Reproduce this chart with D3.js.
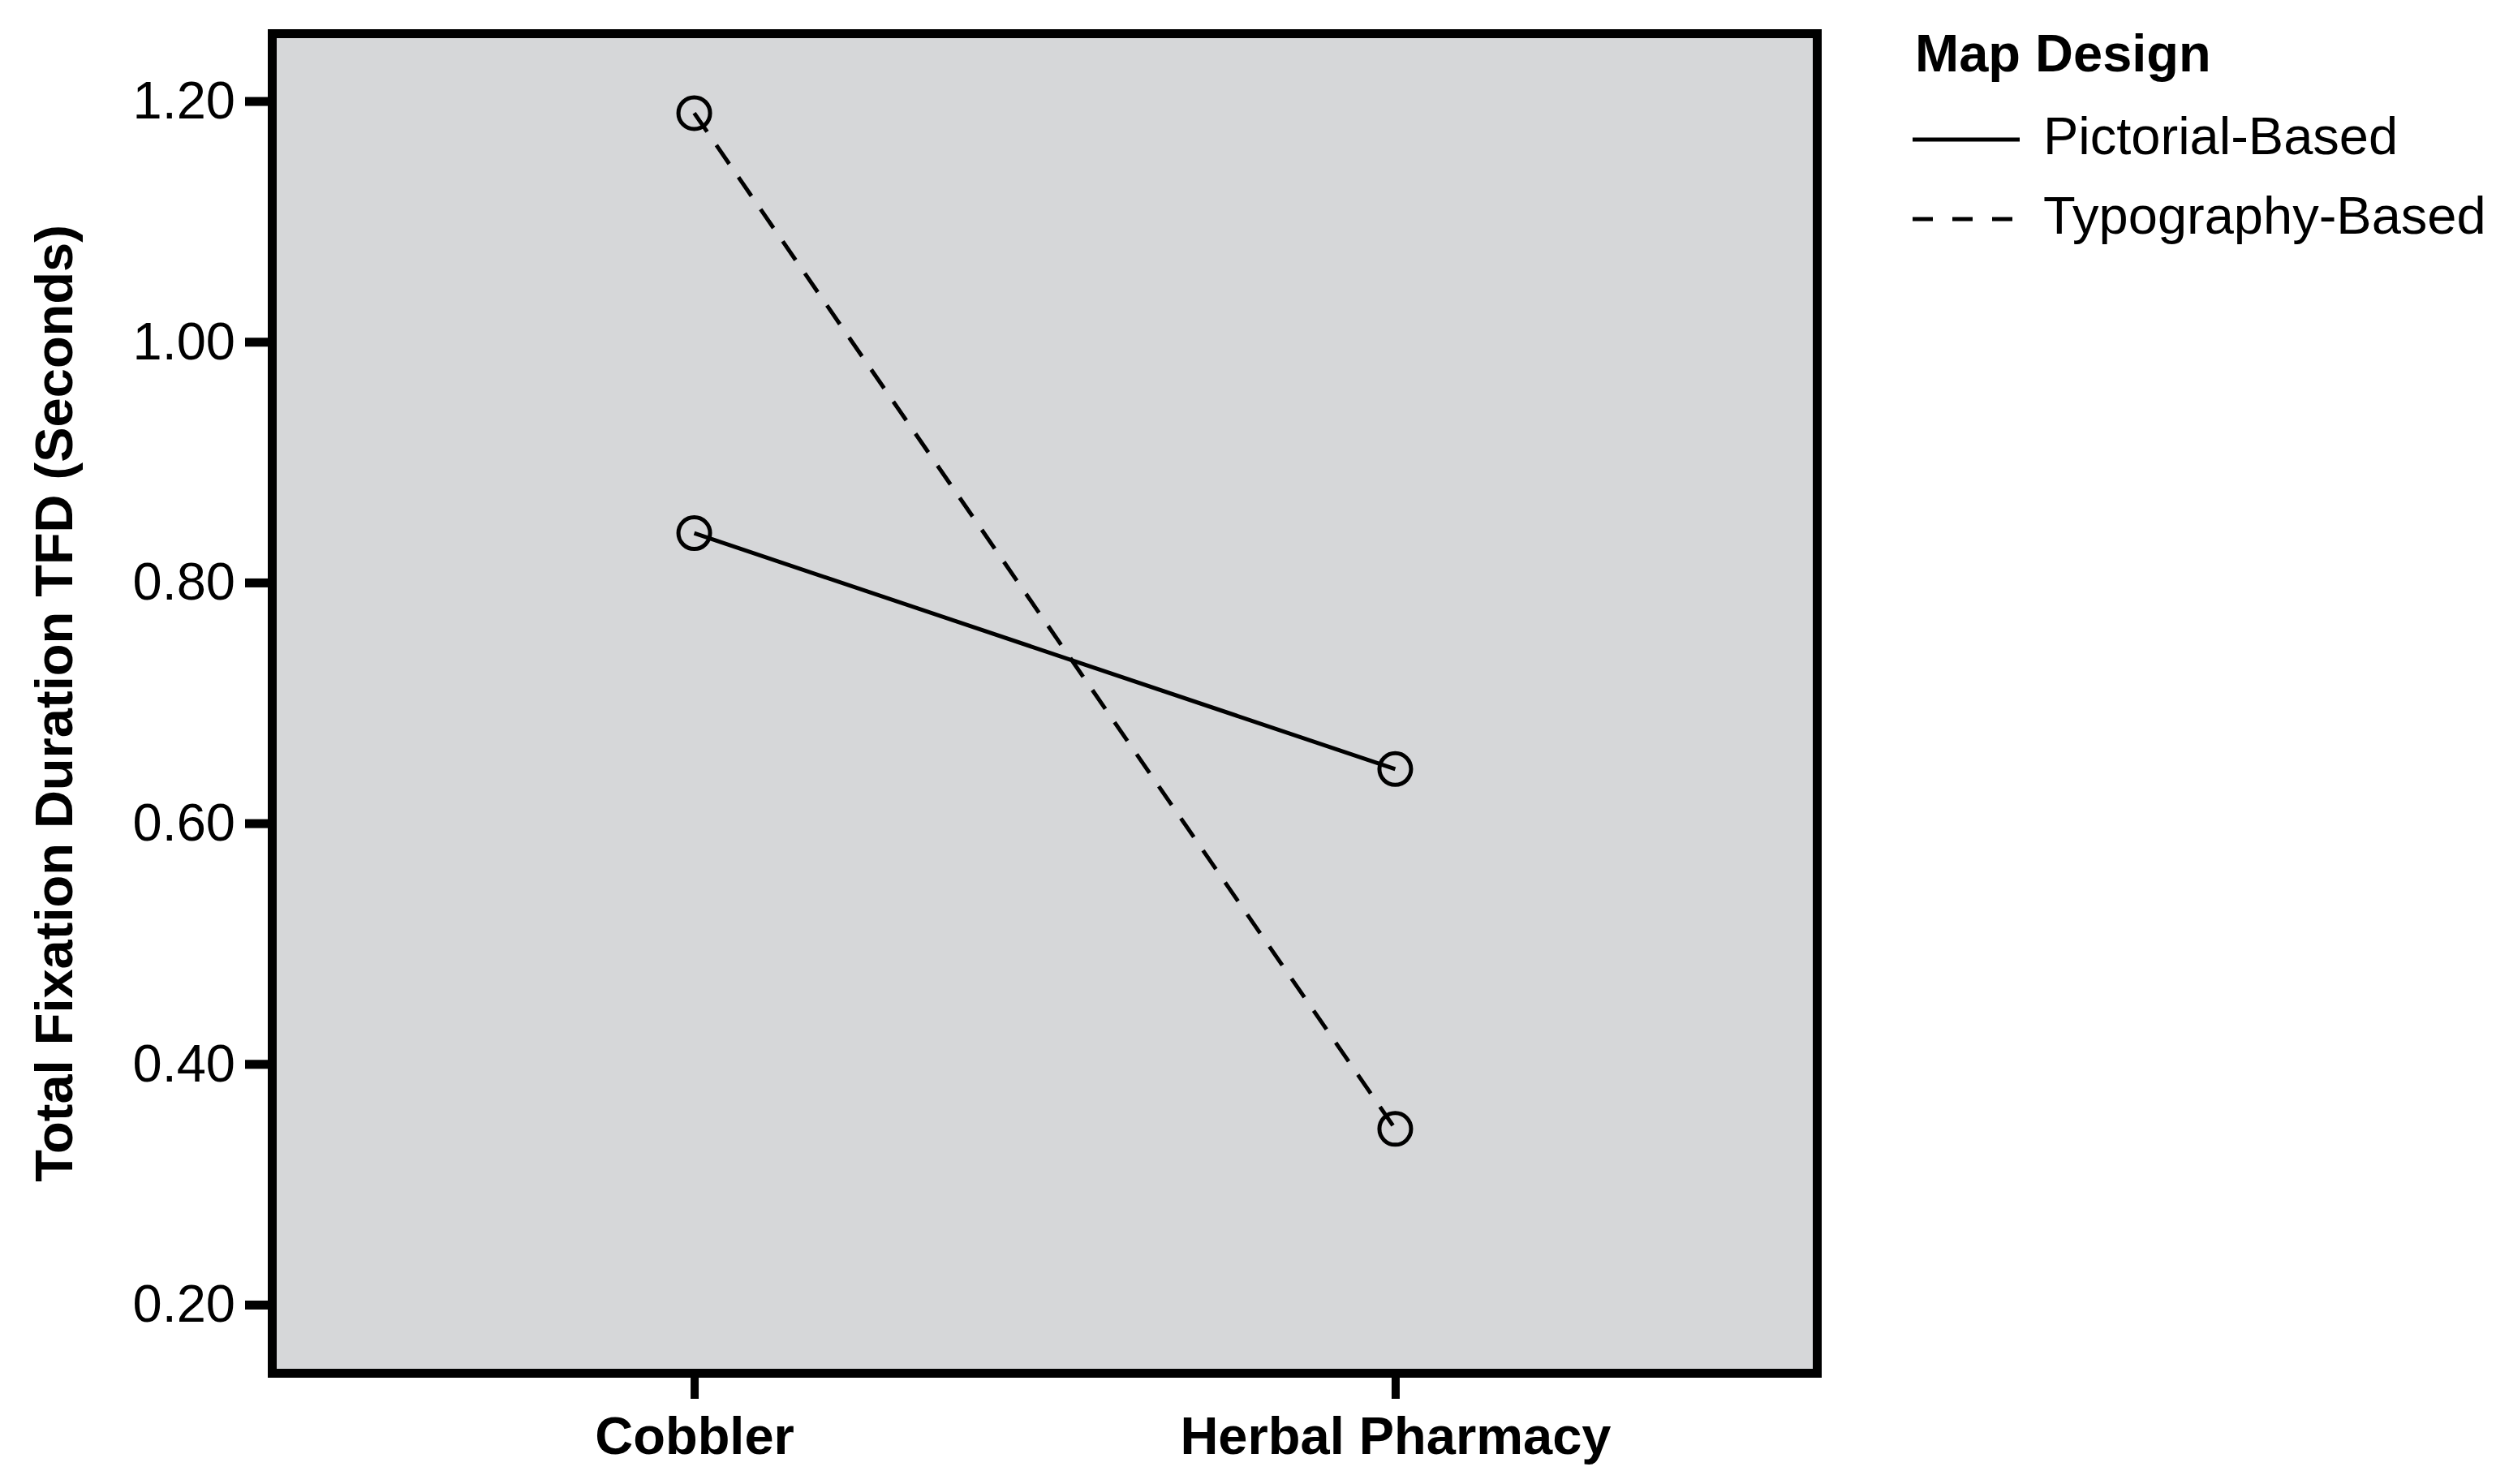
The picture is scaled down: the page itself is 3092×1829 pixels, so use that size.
<!DOCTYPE html>
<html>
<head>
<meta charset="utf-8">
<script src="https://cdn.jsdelivr.net/npm/d3@7"></script>
<style>
  body { margin: 0; background: #fff; }
  text { font-family: "Liberation Sans", Arial, sans-serif; fill: #000; }
</style>
</head>
<body>
<svg id="chart"></svg>
<script>
// --- data ---
const categories = ["Cobbler", "Herbal Pharmacy"];
const seriesNames = ["Pictorial-Based", "Typography-Based"];
const pictorialValues = [0.841, 0.645];
const typographyValues = [1.19, 0.346];
const yTicks = [0.20, 0.40, 0.60, 0.80, 1.00, 1.20];

const width = 3092;
const height = 1829;

const svg = d3.select("#chart")
  .attr("width", width)
  .attr("height", height);

// plot frame (stroke centre lines)
const plotLeft = 335.5, plotRight = 2239.5, plotTop = 41.5, plotBottom = 1692.5;
const frameW = 11;

const x = d3.scalePoint()
  .domain(categories)
  .range([plotLeft, plotRight])
  .padding(0.602);

const y = d3.scaleLinear()
  .domain([0.143, 1.256])
  .range([plotBottom, plotTop]);

// background
svg.append("rect")
  .attr("x", plotLeft)
  .attr("y", plotTop)
  .attr("width", plotRight - plotLeft)
  .attr("height", plotBottom - plotTop)
  .attr("fill", "#d6d7d9");

// y axis
const yAxis = svg.append("g")
  .attr("transform", `translate(${plotLeft - frameW / 2},0)`)
  .call(d3.axisLeft(y).tickValues(yTicks).tickFormat(d3.format(".2f")).tickSize(28).tickPadding(12));
yAxis.select(".domain").remove();
yAxis.selectAll(".tick line").attr("stroke", "#000").attr("stroke-width", 11);
yAxis.selectAll(".tick text")
  .style("font-size", "65px")
  .style("font-family", "'Liberation Sans', Arial, sans-serif")
  .attr("fill", "#000");

// x axis
const xAxis = svg.append("g")
  .attr("transform", `translate(0,${plotBottom + frameW / 2})`)
  .call(d3.axisBottom(x).tickSize(26).tickPadding(22));
xAxis.select(".domain").remove();
xAxis.selectAll(".tick line").attr("stroke", "#000").attr("stroke-width", 10);
xAxis.selectAll(".tick text")
  .style("font-size", "65px")
  .style("font-weight", "bold")
  .style("font-family", "'Liberation Sans', Arial, sans-serif")
  .attr("fill", "#000");

// lines
const series = [
  { name: seriesNames[0], values: pictorialValues, dash: null },
  { name: seriesNames[1], values: typographyValues, dash: "28,20" }
];

const line = d3.line()
  .x((d, i) => x(categories[i]))
  .y(d => y(d));

svg.append("g")
  .selectAll("path")
  .data(series)
  .enter()
  .append("path")
  .attr("d", d => line(d.values))
  .attr("fill", "none")
  .attr("stroke", "#000")
  .attr("stroke-width", 5)
  .attr("stroke-dasharray", d => d.dash);

// markers
svg.append("g")
  .selectAll("g")
  .data(series)
  .enter()
  .append("g")
  .selectAll("circle")
  .data(d => d.values)
  .enter()
  .append("circle")
  .attr("cx", (d, i) => x(categories[i]))
  .attr("cy", d => y(d))
  .attr("r", 19.5)
  .attr("fill", "none")
  .attr("stroke", "#000")
  .attr("stroke-width", 5);

// frame
svg.append("rect")
  .attr("x", plotLeft)
  .attr("y", plotTop)
  .attr("width", plotRight - plotLeft)
  .attr("height", plotBottom - plotTop)
  .attr("fill", "none")
  .attr("stroke", "#000")
  .attr("stroke-width", frameW);

// y title
svg.append("text")
  .attr("transform", `translate(89,${(plotTop + plotBottom) / 2}) rotate(-90)`)
  .attr("text-anchor", "middle")
  .style("font-size", "65px")
  .style("font-weight", "bold")
  .text("Total Fixation Duration TFD (Seconds)");

// legend
const legend = svg.append("g");
legend.append("text")
  .attr("x", 2360)
  .attr("y", 88)
  .style("font-size", "65px")
  .style("font-weight", "bold")
  .text("Map Design");

const legendRows = legend.selectAll("g.row")
  .data(series)
  .enter()
  .append("g")
  .attr("class", "row")
  .attr("transform", (d, i) => `translate(0,${190 + i * 98})`);

legendRows.append("line")
  .attr("x1", 2357)
  .attr("x2", 2489)
  .attr("y1", -18)
  .attr("y2", -18)
  .attr("stroke", "#000")
  .attr("stroke-width", 5)
  .attr("stroke-dasharray", d => d.dash ? "25,24" : null);

legendRows.append("text")
  .attr("x", 2518)
  .attr("y", 0)
  .style("font-size", "65px")
  .text(d => d.name);
</script>
</body>
</html>
